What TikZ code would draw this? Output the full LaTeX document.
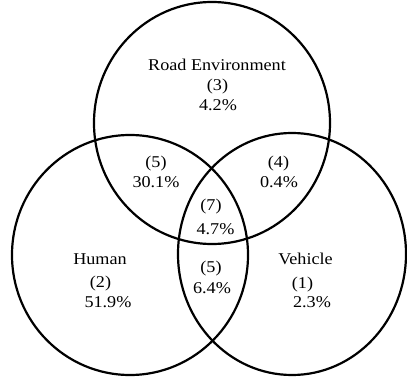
\documentclass[tikz,border=0pt]{standalone}
\usepackage{fontspec}
\setmainfont{Liberation Serif}[FakeStretch=1.1]
\begin{document}
\begin{tikzpicture}[x=1pt, y=-1pt,
    ring/.style={line width=2.2pt},
    lbl/.style={anchor=base, inner sep=0pt, font=\fontsize{16.5}{20}\selectfont}]
    \useasboundingbox (0,0) rectangle (407,379);

    % Circles
    \draw[ring] (212,123) ellipse [x radius=118pt, y radius=121pt];
    \draw[ring] (130,255) ellipse [x radius=118pt, y radius=120pt];
    \draw[ring] (292,254) ellipse [x radius=114pt, y radius=121pt];

    % Road environment
    \node[lbl] (road) at (217,71) {Road Environment};
    \node[lbl] (road-id) at (217.5,91) {(3)};
    \node[lbl] (road-pct) at (218,111) {4.2\%};

    % Human and road
    \node[lbl] (hr-id) at (156,168) {(5)};
    \node[lbl] (hr-pct) at (156,188) {30.1\%};

    % Vehicle and road
    \node[lbl] (vr-id) at (278.5,168) {(4)};
    \node[lbl] (vr-pct) at (279,188) {0.4\%};

    % All three
    \node[lbl] (all-id) at (211,211) {(7)};
    \node[lbl] (all-pct) at (215.5,234.5) {4.7\%};

    % Human and vehicle
    \node[lbl] (hv-id) at (211,273) {(5)};
    \node[lbl] (hv-pct) at (212,294) {6.4\%};

    % Human
    \node[lbl] (human) at (100,265) {Human};
    \node[lbl] (human-id) at (100.5,288) {(2)};
    \node[lbl] (human-pct) at (108,308) {51.9\%};

    % Vehicle
    \node[lbl] (vehicle) at (305.5,265) {Vehicle};
    \node[lbl] (vehicle-id) at (302.5,289) {(1)};
    \node[lbl] (vehicle-pct) at (312,308) {2.3\%};
\end{tikzpicture}
\end{document}
